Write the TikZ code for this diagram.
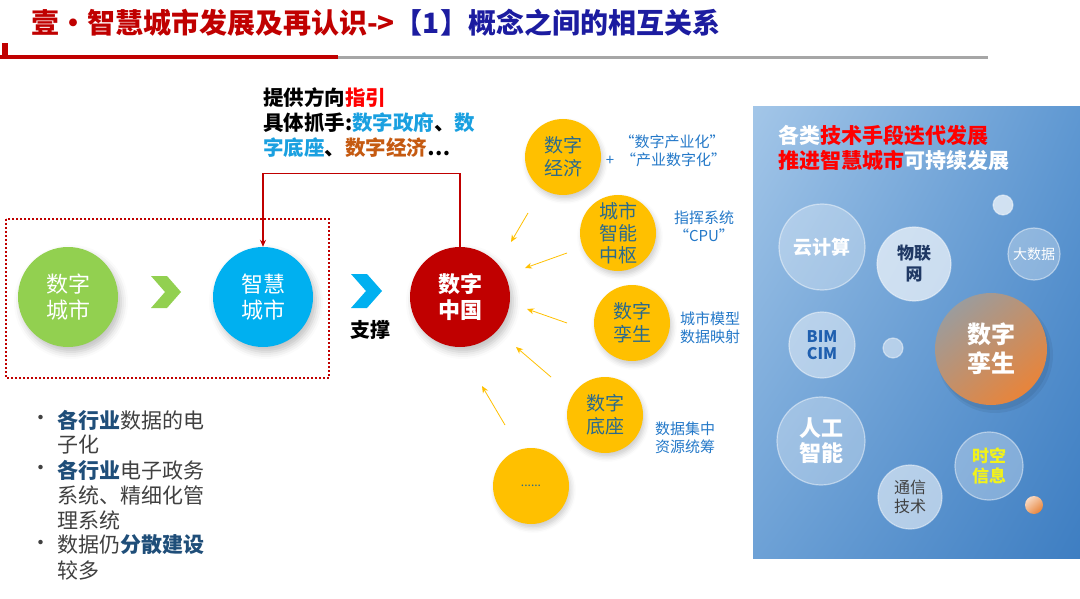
\documentclass[tikz,border=0pt]{standalone}
\usepackage{fontspec}
\setmainfont{Noto Sans CJK SC}
\usetikzlibrary{arrows.meta,shadows.blur,shadings}
\definecolor{tred}{HTML}{C00000}
\definecolor{tblue}{HTML}{1C1CA0}
\definecolor{lgray}{HTML}{A6A6A6}
\definecolor{cgreen}{HTML}{92D050}
\definecolor{cblue}{HTML}{00B0F0}
\definecolor{cred}{HTML}{C00000}
\definecolor{cyel}{HTML}{FFC000}
\definecolor{ytext}{HTML}{2A6A8C}
\definecolor{lblc}{HTML}{2378C8}
\definecolor{gov}{HTML}{1AA0E0}
\definecolor{econ}{HTML}{C55A11}
\definecolor{redt}{HTML}{FF0000}
\definecolor{bodyt}{HTML}{404040}
\definecolor{hil}{HTML}{1F4E79}
\definecolor{pUL}{HTML}{A3C6E8}
\definecolor{pUR}{HTML}{5F98D2}
\definecolor{pLL}{HTML}{6DA1D6}
\definecolor{pLR}{HTML}{3E7EC2}
\definecolor{navy}{HTML}{1F3864}
\definecolor{bimc}{HTML}{1F5FAF}
\definecolor{twgray}{HTML}{9C9C9C}
\definecolor{tworg}{HTML}{E8843A}
\definecolor{yelt}{HTML}{F2F21A}
\definecolor{commt}{HTML}{404040}
\begin{document}
\begin{tikzpicture}[x=1pt,y=-1pt,
  bigc/.style={circle, minimum size=100pt, inner sep=0pt, text=white, align=center,
    font=\fontsize{22}{26}\selectfont,
    blur shadow={shadow xshift=3pt, shadow yshift=-5pt, shadow blur radius=7pt, shadow opacity=25}},
  yc/.style={circle, fill=cyel, minimum size=76pt, inner sep=0pt, text=ytext, align=center,
    font=\fontsize{19}{23}\selectfont,
    blur shadow={shadow xshift=2pt, shadow yshift=-4pt, shadow blur radius=5pt, shadow opacity=20}},
  lbl/.style={text=lblc, align=center, font=\fontsize{15}{18}\selectfont, inner sep=0pt},
  yarr/.style={-{Stealth[length=7pt,width=6pt]}, draw=cyel, line width=0.8pt},
  bub/.style={circle, inner sep=0pt, fill=white, fill opacity=#1, text opacity=1,
    draw=white, draw opacity=0.45, line width=1.2pt, align=center},
  bub/.default=0.3,
  tline/.style={anchor=west, inner sep=0pt, font=\fontsize{20.5}{24}\bfseries},
  bl/.style={anchor=west, inner sep=0pt, text=bodyt, font=\fontsize{21}{25}\selectfont},
]
\useasboundingbox (0,0) rectangle (1080,599);

% title
\fill[tred] (2,43) rectangle (8,59);
\fill[tred] (0,55.5) rectangle (338,59);
\fill[lgray] (338,56.5) rectangle (988,59.5);
\node[anchor=west, inner sep=0pt, font=\fontsize{28}{28}\bfseries] (title) at (31,23)
  {\textcolor{tred}{壹·智慧城市发展及再认识->}\textcolor{tblue}{【1】概念之间的相互关系}};

% top text
\node[tline] (t1) at (263,98) {提供方向\textcolor{redt}{指引}};
\node[tline] (t2) at (263,123) {具体抓手:\textcolor{gov}{数字政府}、\textcolor{gov}{数}};
\node[tline] (t3) at (263,148) {\textcolor{gov}{字底座}、\textcolor{econ}{数字经济}…};

% dotted box
\draw[tred, line width=2pt, dotted] (6,219) rectangle (329,378);

% main circles
\node[bigc, fill=cgreen] (dc) at (68,297) {数字\\城市};
\node[bigc, fill=cblue] (zh) at (263,297) {智慧\\城市};
\node[bigc, fill=cred, font=\fontsize{22}{26}\bfseries] (zg) at (460,297) {数字\\中国};

% chevrons
\fill[cgreen] (151,276) -- (167,276) -- (181,292) -- (167,308) -- (151,308) -- (165,292) -- cycle;
\fill[cblue] (351,274) -- (367,274) -- (382,291) -- (367,308) -- (351,308) -- (366,291) -- cycle;
\node[inner sep=0pt, font=\fontsize{20}{24}\bfseries] (zc) at (370,330) {支撑};

% red connector
\draw[tred, line width=1.3pt, -{Stealth[length=7pt,width=6pt]}] (zg.north) -- ++(0,-73) -| (zh.north);

% yellow circles
\node[yc] (y1) at (563,157) {数字\\经济};
\node[yc, font=\fontsize{19}{22}\selectfont] (y2) at (618,233) {城市\\智能\\中枢};
\node[yc] (y3) at (632,323) {数字\\孪生};
\node[yc] (y4) at (605,415) {数字\\底座};
\node[yc, font=\fontsize{12}{14}\selectfont] (y5) at (531,486) {......};

% labels
\node[lbl] (l1a) at (672,142) {“数字产业化”};
\node[lbl] (l1b) at (666,160) {+\ \ “产业数字化”};
\node[lbl] (l2) at (704,226) {指挥系统\\“CPU”};
\node[lbl] (l3) at (710,328) {城市模型\\数据映射};
\node[lbl] (l4) at (685,438) {数据集中\\资源统筹};

% yellow arrows
\coordinate (a1s) at (528,213); \coordinate (a1e) at (511,242);
\coordinate (a2s) at (567,253); \coordinate (a2e) at (525,268);
\coordinate (a3s) at (567,323); \coordinate (a3e) at (527,309);
\coordinate (a4s) at (551,377); \coordinate (a4e) at (516,347);
\coordinate (a5s) at (505,425); \coordinate (a5e) at (482,386);
\draw[yarr] (a1s) -- (a1e);
\draw[yarr] (a2s) -- (a2e);
\draw[yarr] (a3s) -- (a3e);
\draw[yarr] (a4s) -- (a4e);
\draw[yarr] (a5s) -- (a5e);

% bullets
\node[bl] (b1) at (30,420) {•};
\node[bl] (b2) at (30,470) {•};
\node[bl] (b3) at (30,545) {•};
\node[bl] (s1) at (57,420) {\textcolor{hil}{\bfseries 各行业}数据的电};
\node[bl] (s2) at (57,445) {子化};
\node[bl] (s3) at (57,470) {\textcolor{hil}{\bfseries 各行业}电子政务};
\node[bl] (s4) at (57,495) {系统、精细化管};
\node[bl] (s5) at (57,520) {理系统};
\node[bl] (s6) at (57,545) {数据仍\textcolor{hil}{\bfseries 分散建设}};
\node[bl] (s7) at (57,570) {较多};

% right panel
\shade[upper left=pUL, upper right=pUR, lower left=pLL, lower right=pLR] (753,107) rectangle (1080,558);
\node[anchor=west, inner sep=0pt, font=\fontsize{21}{25}\bfseries] (p1) at (778,135)
  {\textcolor{white}{各类}\textcolor{redt}{技术手段迭代发展}};
\node[anchor=west, inner sep=0pt, font=\fontsize{21}{25}\bfseries] (p2) at (778,160)
  {\textcolor{redt}{推进智慧城市}\textcolor{white}{可持续发展}};

% bubbles
\node[bub=0.7, minimum size=20pt] (s01) at (1003,205) {};
\node[bub=0.3, minimum size=86pt, text=white, font=\fontsize{19}{22}\bfseries] (yjs) at (822,247) {云计算};
\node[bub=0.65, minimum size=74pt, text=navy, font=\fontsize{17}{21}\bfseries] (wlw) at (914,264) {物联\\网};
\node[bub=0.3, minimum size=52pt, text=white, font=\fontsize{14}{17}\selectfont] (dsj) at (1034,254) {大数据};
\node[bub=0.45, minimum size=66pt, text=bimc, font=\fontsize{16}{17}\bfseries] (bim) at (822,345) {BIM\\CIM};
\node[bub=0.5, minimum size=20pt] (s02) at (893,348) {};
\fill[black, opacity=0.06] (995,355) circle (58pt);
\fill[black, opacity=0.06] (994,354) circle (56pt);
\node[circle, minimum size=112pt, inner sep=0pt, shading=axis, top color=twgray, bottom color=tworg,
  shading angle=40, text=white, align=center, font=\fontsize{24}{29}\bfseries] (szl) at (991,349) {数字\\孪生};
\node[bub=0.3, minimum size=88pt, text=white, font=\fontsize{22}{25}\bfseries] (rgzn) at (821,441) {人工\\智能};
\node[bub=0.3, minimum size=68pt, text=yelt, font=\fontsize{17}{20}\bfseries] (skxx) at (989,466) {时空\\信息};
\node[bub=0.55, minimum size=64pt, text=commt, font=\fontsize{16}{19}\selectfont] (txjs) at (910,497) {通信\\技术};
\node[circle, minimum size=18pt, inner sep=0pt, shading=axis, top color=white!70!tworg, bottom color=tworg, shading angle=40] (s03) at (1034,505) {};
\end{tikzpicture}
\end{document}
